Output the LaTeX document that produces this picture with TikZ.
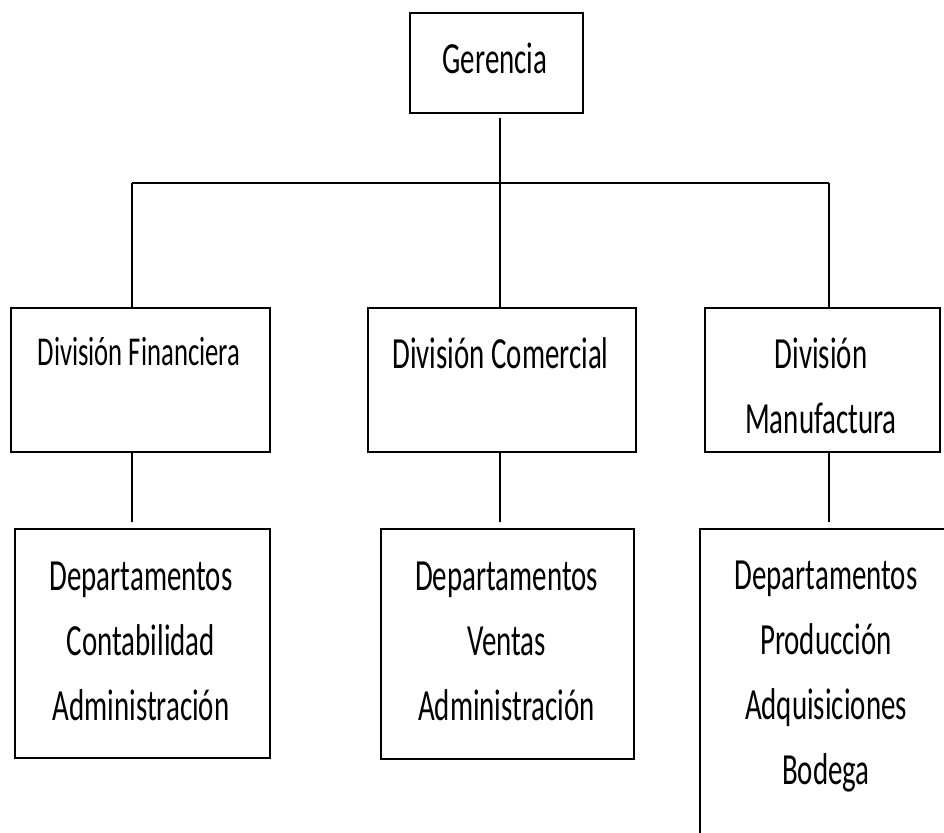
\documentclass[tikz,border=0pt]{standalone}
\usepackage{fontspec}
\setmainfont[FakeStretch=0.65]{Carlito}
\usetikzlibrary{positioning, calc}

\begin{document}
\begin{tikzpicture}
    [
        x=1pt, y=-1pt,
        box/.style={rectangle, draw=black, line width=2.4pt, inner sep=0pt, anchor=north west},
        txt/.style={inner sep=0pt, anchor=base, align=center},
        link/.style={draw=black, line width=1.6pt},
        ger_font/.style={font=\fontsize{44.5}{60}\selectfont},
        fin_font/.style={font=\fontsize{41}{65}\selectfont},
        div_font/.style={font=\fontsize{44.5}{65}\selectfont},
        dep_font/.style={font=\fontsize{44.5}{65}\selectfont},
    ]

  \useasboundingbox (0,0) rectangle (944,832);
  \clip (0,0) rectangle (944,832);

  % boxes
  \node[box, minimum width=173pt, minimum height=100pt] (ger) at (409,12) {};
  \node[box, minimum width=259pt, minimum height=144pt] (fin) at (10,307) {};
  \node[box, minimum width=268pt, minimum height=144pt] (com) at (367,307) {};
  \node[box, minimum width=235pt, minimum height=144pt] (man) at (704,307) {};
  \node[box, minimum width=255pt, minimum height=229pt] (dep1) at (14,528) {};
  \node[box, minimum width=253pt, minimum height=230pt] (dep2) at (380,528) {};
  \node[box, minimum width=254pt, minimum height=372pt] (dep3) at (699,528) {};

  % texts (base = last line)
  \node[txt, ger_font] (t_ger) at (495,74) {Gerencia};
  \node[txt, fin_font] (t_fin) at (139,365) {División Financiera};
  \node[txt, div_font] (t_com) at (500.5,368) {División Comercial};
  \node[txt, div_font] (t_man) at (821,433) {División\\Manufactura};
  \node[txt, dep_font] (t_dep1) at (141,720) {Departamentos\\Contabilidad\\Administración};
  \node[txt, dep_font] (t_dep2) at (506.5,720) {Departamentos\\Ventas\\Administración};
  \node[txt, dep_font] (t_dep3) at (826,784) {Departamentos\\Producción\\Adquisiciones\\Bodega};

  % junctions
  \coordinate (jL) at (132,183);
  \coordinate (jM) at (500,183);
  \coordinate (jR) at (829,183);

  \draw[link] (jL) -- (jR);
  \draw[link] ([yshift=-4pt]ger.south -| jM) -- (jM);
  \draw[link] (jL) -- (jL |- fin.north);
  \draw[link] (jM) -- (jM |- com.north);
  \draw[link] (jR) -- (jR |- man.north);
  \draw[link, shorten >=6pt] (fin.south -| jL) -- (dep1.north -| jL);
  \draw[link, shorten >=6pt] (com.south -| jM) -- (dep2.north -| jM);
  \draw[link, shorten >=6pt] (man.south -| jR) -- (dep3.north -| jR);
\end{tikzpicture}
\end{document}
